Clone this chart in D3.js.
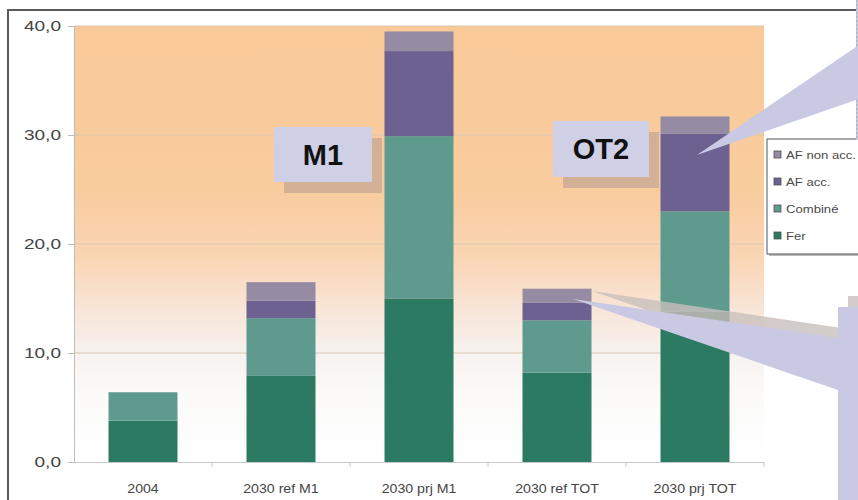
<!DOCTYPE html>
<html>
<head>
<meta charset="utf-8">
<script src="https://cdn.jsdelivr.net/npm/d3@7"></script>
<style>
  html, body { margin: 0; padding: 0; background: #ffffff; overflow: hidden; }
  svg { display: block; font-family: "Liberation Sans", Arial, sans-serif; }
</style>
</head>
<body>
<svg id="chart" width="858" height="500"></svg>
<script>
// Freight volumes by mode, stacked per scenario
const categories = ["2004", "2030 ref M1", "2030 prj M1", "2030 ref TOT", "2030 prj TOT"];
const fer        = [3.8, 7.9, 15.0, 8.2, 13.8];
const combine    = [2.6, 5.3, 14.9, 4.8, 9.2];
const afAcc      = [0.0, 1.6, 7.8, 1.6, 7.1];
const afNonAcc   = [0.0, 1.7, 1.8, 1.3, 1.6];
const seriesNames = ["Fer", "Combiné", "AF acc.", "AF non acc."];
const yTicks = [0, 10, 20, 30, 40];

const colors = {
  "Fer": "#2d7a63",
  "Combiné": "#5f9a8f",
  "AF acc.": "#6c6190",
  "AF non acc.": "#958ba3"
};

const rows = categories.map((c, i) => ({
  cat: c,
  "Fer": fer[i],
  "Combiné": combine[i],
  "AF acc.": afAcc[i],
  "AF non acc.": afNonAcc[i]
}));

const svg = d3.select("#chart");
const plot = { left: 74, right: 764, top: 26, bottom: 462 };

const x = d3.scaleBand()
  .domain(categories)
  .range([plot.left, plot.right])
  .paddingInner(0.5)
  .paddingOuter(0.25);

const y = d3.scaleLinear()
  .domain([0, 40])
  .range([plot.bottom, plot.top]);

const defs = svg.append("defs");
const grad = defs.append("linearGradient")
  .attr("id", "bgGrad")
  .attr("x1", 0).attr("y1", 0).attr("x2", 0).attr("y2", 1);
[
  [0, "#f9c998"], [0.38, "#f9cc9e"], [0.53, "#fad5b4"],
  [0.65, "#f8e5d7"], [0.75, "#f7f2ef"], [0.85, "#fcfbfa"], [1, "#ffffff"]
].forEach(([o, c]) => grad.append("stop").attr("offset", o).attr("stop-color", c));

// outer frame of the chart object
svg.append("path")
  .attr("d", "M8,500 L8,10 L856,10")
  .attr("fill", "none")
  .attr("stroke", "#5a5a5a")
  .attr("stroke-width", 2);

// plot background
svg.append("rect")
  .attr("x", plot.left).attr("y", plot.top)
  .attr("width", plot.right - plot.left).attr("height", plot.bottom - plot.top)
  .attr("fill", "url(#bgGrad)");

// horizontal gridlines
svg.append("g")
  .selectAll("line")
  .data(yTicks.filter(t => t > 0))
  .join("line")
  .attr("x1", plot.left).attr("x2", plot.right)
  .attr("y1", d => y(d)).attr("y2", d => y(d))
  .attr("stroke", "#dcc6b2")
  .attr("stroke-width", 1);

// y axis
const fmt = d => d3.format(".1f")(d).replace(".", ",");
const yAxis = svg.append("g")
  .attr("transform", `translate(${plot.left},0)`)
  .call(d3.axisLeft(y).tickValues(yTicks).tickSize(6).tickPadding(0).tickFormat(fmt));
yAxis.select(".domain").attr("stroke", "#bdbdbd");
yAxis.selectAll(".tick line").attr("stroke", "#bdbdbd");
yAxis.selectAll(".tick text")
  .attr("x", 0)
  .attr("fill", "#454545")
  .attr("font-size", 15)
  .attr("text-anchor", "end")
  .attr("transform", "translate(-13,0) scale(1.27,1)");

// x axis with ticks between categories
const xAxis = svg.append("g")
  .attr("transform", `translate(0,${plot.bottom})`)
  .call(d3.axisBottom(x).tickSize(0).tickPadding(0));
xAxis.select(".domain").attr("stroke", "#c8c8c8");
xAxis.selectAll(".tick text")
  .attr("y", 0)
  .attr("dy", 0)
  .attr("fill", "#454545")
  .attr("font-size", 12)
  .attr("transform", "translate(0,31) scale(1.18,1)");
svg.append("g")
  .selectAll("line")
  .data(categories)
  .join("line")
  .attr("x1", (d, i) => plot.left + x.step() * (i + 1))
  .attr("x2", (d, i) => plot.left + x.step() * (i + 1))
  .attr("y1", plot.bottom).attr("y2", plot.bottom + 5)
  .attr("stroke", "#c8c8c8");

// stacked bars
const stack = d3.stack().keys(seriesNames)(rows);
svg.append("g")
  .selectAll("g")
  .data(stack)
  .join("g")
  .attr("fill", d => colors[d.key])
  .selectAll("rect")
  .data(d => d.filter(s => s[1] - s[0] > 0))
  .join("rect")
  .attr("x", d => x(d.data.cat))
  .attr("width", x.bandwidth())
  .attr("y", d => y(d[1]))
  .attr("height", d => y(d[0]) - y(d[1]));

// scenario tags with drop shadow
const tags = [
  { text: "M1", x: 274, y: 127, w: 98, h: 55, size: 29 },
  { text: "OT2", x: 553, y: 121, w: 96, h: 56, size: 29 }
];
const tagG = svg.append("g");
tags.forEach(t => {
  tagG.append("rect")
    .attr("x", t.x + 10).attr("y", t.y + 11)
    .attr("width", t.w).attr("height", t.h)
    .attr("fill", "#b59a90").attr("opacity", 0.55);
  tagG.append("rect")
    .attr("x", t.x).attr("y", t.y)
    .attr("width", t.w).attr("height", t.h)
    .attr("fill", "#cfcfe6");
  tagG.append("text")
    .attr("x", t.x + t.w / 2).attr("y", t.y + t.h / 2 + t.size * 0.36)
    .attr("text-anchor", "middle")
    .attr("font-size", t.size)
    .attr("font-weight", "bold")
    .attr("fill", "#111111")
    .text(t.text);
});

// legend
const lg = svg.append("g");
lg.append("rect")
  .attr("x", 769).attr("y", 141).attr("width", 120).attr("height", 115)
  .attr("fill", "#b8b8b8");
lg.append("rect")
  .attr("x", 767).attr("y", 139).attr("width", 120).attr("height", 115)
  .attr("fill", "#ffffff").attr("stroke", "#707070").attr("stroke-width", 1.2);
const legendOrder = ["AF non acc.", "AF acc.", "Combiné", "Fer"];
const legendY = [155, 182, 209, 236];
legendOrder.forEach((k, i) => {
  lg.append("rect")
    .attr("x", 774).attr("y", legendY[i] - 4)
    .attr("width", 7).attr("height", 7)
    .attr("fill", colors[k]).attr("stroke", "#505050").attr("stroke-width", 0.8);
  lg.append("text")
    .attr("x", 0).attr("y", 0)
    .attr("transform", `translate(786,${legendY[i] + 4}) scale(1.14,1)`)
    .attr("font-size", 11.5)
    .attr("fill", "#4a4a4a")
    .text(k);
});

// callout pointing at the OT2 AF acc. segment
const callG = svg.append("g");
callG.append("path")
  .attr("d", "M697,155 L856,47 L856,-5 L880,-5 L880,140 L856,140 L856,100 Z")
  .attr("fill", "#c9c9e4");
callG.append("line")
  .attr("x1", 856.5).attr("x2", 856.5).attr("y1", 0).attr("y2", 47)
  .attr("stroke", "#9fa8d8").attr("stroke-dasharray", "2,2");
callG.append("line")
  .attr("x1", 856.5).attr("x2", 856.5).attr("y1", 100).attr("y2", 140)
  .attr("stroke", "#9fa8d8").attr("stroke-dasharray", "2,2");

// callout pointing at the reference TOT bar, with its shadow
callG.append("path")
  .attr("d", "M592,291 L848,329 L848,296 L880,296 L880,510 L848,510 L848,380 Z")
  .attr("fill", "#c9bfbd").attr("opacity", 0.8);
callG.append("path")
  .attr("d", "M573,299 L838,338 L838,307 L880,307 L880,510 L838,510 L838,390 Z")
  .attr("fill", "#c9c9e4");
</script>
</body>
</html>
